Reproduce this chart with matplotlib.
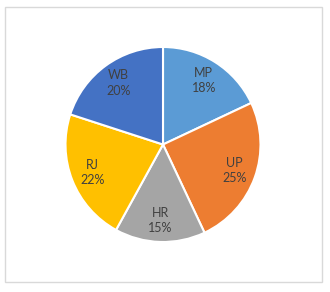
import matplotlib.pyplot as plt
from matplotlib.patches import Rectangle

labels = ['MP', 'UP', 'HR', 'RJ', 'WB']
values = [18, 25, 15, 22, 20]
colors = ['#5B9BD5', '#ED7D31', '#A5A5A5', '#FFC000', '#4472C4']

W, H = 330, 292
fig = plt.figure(figsize=(W / 100, H / 100), dpi=100)

# light border around the chart area
fig.patches.append(Rectangle((5 / W, 1 - 282 / H), 317 / W, 275 / H,
                             transform=fig.transFigure, fill=False,
                             edgecolor='#D9D9D9', lw=1))

cx, cy, r = 163, 144.5, 97.5
ax = fig.add_axes([(cx - r) / W, 1 - (cy + r) / H, 2 * r / W, 2 * r / H])

wedges, texts = ax.pie(values, colors=colors, startangle=90, counterclock=False,
                       labels=[f'{l}\n{v}%' for l, v in zip(labels, values)],
                       labeldistance=0.78,
                       wedgeprops=dict(edgecolor='white', linewidth=1.5),
                       textprops=dict(color='#404040', fontsize=9,
                                      family='Lato',
                                      ha='center', va='center',
                                      linespacing=1.35))
ax.set_xlim(-1, 1)
ax.set_ylim(-1, 1)
ax.set_aspect('equal')
ax.axis('off')

fig.savefig('out.png', dpi=100)
